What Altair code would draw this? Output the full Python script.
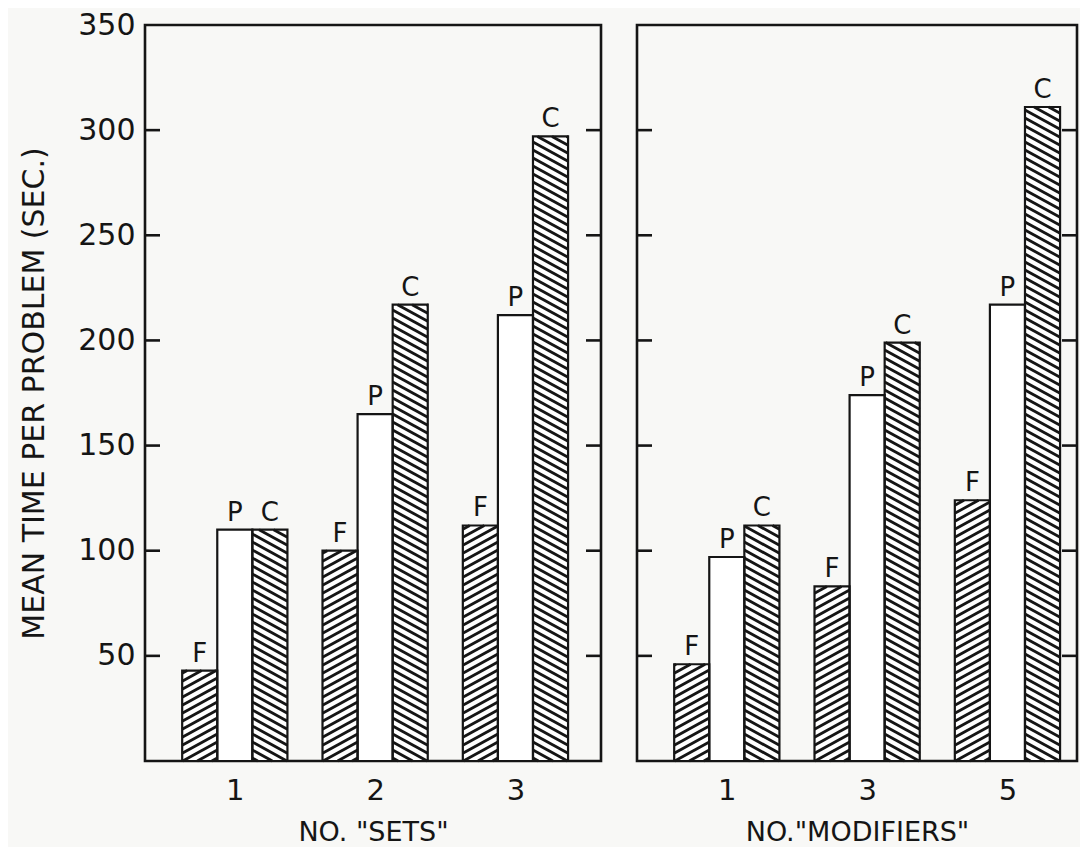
import altair as alt
import pandas as pd
import numpy as np

# ---------------- data ----------------
series = ["F", "P", "C"]

sets_groups = ["1", "2", "3"]
sets_F = [43, 100, 112]
sets_P = [110, 165, 212]
sets_C = [110, 217, 297]

mod_groups = ["1", "3", "5"]
mod_F = [46, 83, 124]
mod_P = [97, 174, 217]
mod_C = [112, 199, 311]

y_tick_values = [50, 100, 150, 200, 250, 300, 350]
inner_tick_values = [50, 100, 150, 200, 250, 300]

y_title = "MEAN TIME PER PROBLEM (SEC.)"
x_title_left = 'NO. "SETS"'
x_title_right = 'NO."MODIFIERS"'

# ---------------- layout / style ----------------
INK = "#151515"
BG = "#f8f8f6"
FONT = "DejaVu Sans"
H = 736
W1 = 456
W2 = 440
UNIT = 35.08          # px per x unit (one bar width)
YMAX = 350
GROUP_START = 2.56
GROUP_STEP = 4.0
OFFSETS = {"F": (-1.5, -0.5), "P": (-0.5, 0.5), "C": (0.5, 1.5)}
HATCH_DIR = {"F": 1, "C": -1}
SLOPE = 0.55
SPACING = 8.0         # vertical px between hatch lines
TICK_LEN = 15


def bars_df(groups, F, P, C):
    rows = []
    for i, g in enumerate(groups):
        c = GROUP_START + GROUP_STEP * i
        for s, v in zip(series, [F[i], P[i], C[i]]):
            a, b = OFFSETS[s]
            rows.append(dict(group=g, series=s, value=v, x0=c + a, x1=c + b,
                             xc=c + (a + b) / 2))
    return pd.DataFrame(rows)


def hatch_df(bars):
    segs = []
    ypx = H / YMAX
    for _, r in bars.iterrows():
        if r.series not in HATCH_DIR:
            continue
        d = HATCH_DIR[r.series]
        w = (r.x1 - r.x0) * UNIT
        h = r.value * ypx
        if d > 0:
            cs = np.arange(-SLOPE * w + 3, h, SPACING)
        else:
            cs = np.arange(3, h + SLOPE * w, SPACING)
        for c0 in cs:
            xa = (0 - c0) / (d * SLOPE)
            xb = (h - c0) / (d * SLOPE)
            lo = max(0.0, min(xa, xb))
            hi = min(w, max(xa, xb))
            if hi - lo < 0.8:
                continue
            ya = c0 + d * SLOPE * lo
            yb = c0 + d * SLOPE * hi
            segs.append(dict(xa=r.x0 + lo / UNIT, xb=r.x0 + hi / UNIT,
                             ya=ya / ypx, yb=yb / ypx))
    return pd.DataFrame(segs)


def panel(groups, F, P, C, width, xtitle, show_y):
    bars = bars_df(groups, F, P, C)
    hatch = hatch_df(bars)
    xmax = width / UNIT
    xscale = alt.Scale(domain=[0, xmax], nice=False, zero=False)
    yscale = alt.Scale(domain=[0, YMAX], nice=False, zero=True)

    centers = [GROUP_START + GROUP_STEP * i for i in range(len(groups))]
    expr = "'%s'" % groups[-1]
    for i in range(len(groups) - 2, -1, -1):
        expr = "datum.value < %f ? '%s' : %s" % (centers[i] + GROUP_STEP / 2, groups[i], expr)

    xaxis = alt.Axis(values=centers, labelExpr=expr, title=xtitle, grid=False,
                     ticks=False, domain=False, labelFontSize=29, titleFontSize=27,
                     labelFont=FONT, titleFont=FONT, labelColor=INK, titleColor=INK,
                     titleFontWeight="normal", labelPadding=15, titlePadding=14)
    if show_y:
        yaxis = alt.Axis(values=y_tick_values, title=y_title, grid=False, ticks=False,
                         domain=False, labelFontSize=30, titleFontSize=30,
                         labelFont=FONT, titleFont=FONT, labelColor=INK, titleColor=INK,
                         titleFontWeight="normal", labelPadding=10, titlePadding=28)
    else:
        yaxis = None

    base = alt.Chart(bars)
    fill = base.mark_bar(fill="white", strokeWidth=0).encode(
        x=alt.X("x0:Q", scale=xscale, axis=xaxis), x2="x1:Q",
        y=alt.Y("value:Q", scale=yscale, axis=yaxis), y2=alt.datum(0),
    )
    hatch_layer = alt.Chart(hatch).mark_rule(strokeWidth=2.8, color=INK).encode(
        x=alt.X("xa:Q", scale=xscale, axis=xaxis), x2="xb:Q",
        y=alt.Y("ya:Q", scale=yscale, axis=yaxis), y2="yb:Q",
    )
    outline = base.mark_bar(fillOpacity=0, stroke=INK, strokeWidth=2.2).encode(
        x=alt.X("x0:Q", scale=xscale, axis=xaxis), x2="x1:Q",
        y=alt.Y("value:Q", scale=yscale, axis=yaxis), y2=alt.datum(0),
    )
    labels = base.mark_text(baseline="bottom", dy=-4, fontSize=26, font=FONT,
                            color=INK).encode(
        x=alt.X("xc:Q", scale=xscale, axis=xaxis),
        y=alt.Y("value:Q", scale=yscale, axis=yaxis),
        text="series:N",
    )
    tdf = pd.DataFrame({"t": inner_tick_values})
    ticks_l = alt.Chart(tdf).mark_rule(strokeWidth=2.6, color=INK).encode(
        y=alt.Y("t:Q", scale=yscale, axis=yaxis),
        x=alt.value(0), x2=alt.value(TICK_LEN),
    )
    ticks_r = alt.Chart(tdf).mark_rule(strokeWidth=2.6, color=INK).encode(
        y=alt.Y("t:Q", scale=yscale, axis=yaxis),
        x=alt.value(width - TICK_LEN), x2=alt.value(width),
    )
    return alt.layer(fill, hatch_layer, outline, labels, ticks_l, ticks_r).properties(
        width=width, height=H)


left = panel(sets_groups, sets_F, sets_P, sets_C, W1, x_title_left, True)
right = panel(mod_groups, mod_F, mod_P, mod_C, W2, x_title_right, False)

chart = alt.hconcat(left, right, spacing=30).resolve_scale(
    x="independent", y="independent"
).properties(
    background=BG,
    padding={"left": 10, "top": 0, "right": 0, "bottom": 0},
).configure_view(stroke=INK, strokeWidth=2.6)

chart.save("out.html", embed_options={"renderer": "svg", "actions": False})
